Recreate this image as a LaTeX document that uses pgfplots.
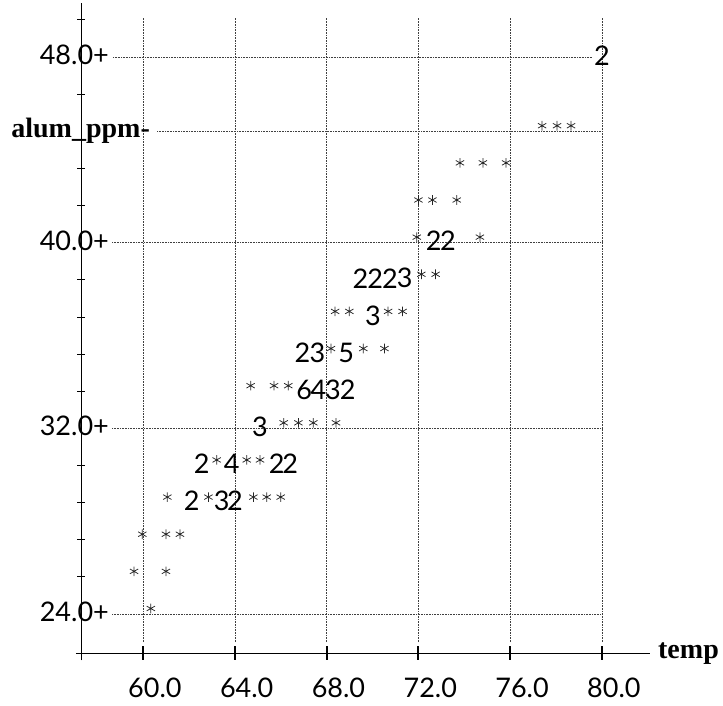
\documentclass[border=0pt]{standalone}
\usepackage{fontspec}
\setmainfont{Lato}
\newfontfamily\labelfont{Liberation Serif}
\usepackage{pgfplots}
\pgfplotsset{compat=1.18}

\newcommand\chfont{\fontsize{27}{30}\selectfont}
\newcommand\lbfont{\labelfont\bfseries\fontsize{28}{30}\selectfont}

% digits printed in the character plot (x = temp, y = row of alum_ppm)
\pgfplotstableread{
x     y     c
80.00 48.0  2
72.67 40.0  2
73.29 40.0  2
69.47 38.4  2
70.12 38.4  2
70.76 38.4  2
71.40 38.4  3
70.02 36.8  3
66.95 35.2  2
67.60 35.2  3
68.85 35.2  5
67.02 33.6  6
67.65 33.6  4
68.28 33.6  3
68.92 33.6  2
65.10 32.0  3
62.56 30.4  2
63.86 30.4  4
65.83 30.4  2
66.41 30.4  2
62.12 28.8  2
63.43 28.8  3
64.01 28.8  2
}\digits

% single observations, printed as *
\pgfplotstableread{
x     y
77.39 44.8
78.04 44.8
78.65 44.8
73.81 43.2
74.81 43.2
75.82 43.2
72.00 41.6
72.61 41.6
73.67 41.6
71.93 40.0
74.68 40.0
72.13 38.4
72.75 38.4
68.37 36.8
68.99 36.8
70.68 36.8
71.31 36.8
68.19 35.2
69.60 35.2
70.52 35.2
64.69 33.6
65.71 33.6
66.33 33.6
66.13 32.0
66.77 32.0
67.42 32.0
68.41 32.0
63.21 30.4
64.52 30.4
65.10 30.4
61.06 28.8
62.85 28.8
64.81 28.8
65.39 28.8
66.00 28.8
59.97 27.2
61.00 27.2
61.61 27.2
59.61 25.6
61.00 25.6
60.34 24.0
}\stars

\begin{document}
\begin{tikzpicture}
\useasboundingbox (0,0) rectangle (723pt,706pt);
\begin{axis}[
    at={(81.04pt,53.01pt)}, anchor=south west,
    scale only axis, width=568.93pt, height=650.11pt,
    xmin=57.3, xmax=82.09, ymin=22.32, ymax=50.33,
    axis line style={draw=none},
    xtick={60,64,68,72,76,80}, xticklabels={},
    xtick pos=bottom, ytick pos=left,
    tick align=center,
    major tick length=14pt,
    xtick style={line width=2pt, black},
    ytick=\empty, yticklabels={},
    extra y ticks={25.6,27.2,28.8,30.4,33.6,35.2,36.8,38.4,41.6,43.2,46.4,49.6},
    extra y tick labels={},
    extra y tick style={major tick length=8pt, tick style={line width=0.8pt, black}},
    clip=false,
  ]

  % axis lines (with the small overhang of the original)
  \draw[line width=0.9pt] (axis cs:57.08,22.32) -- (axis cs:82.09,22.32);
  \draw[line width=0.9pt] (axis cs:57.3,22.0) -- (axis cs:57.3,50.33);

  % dotted reference lines
  \tikzset{gl/.style={densely dotted, line width=0.6pt, black!75}}
  \draw[gl] (axis cs:60,22.79) -- (axis cs:60,49.68);
  \draw[gl] (axis cs:64,22.79) -- (axis cs:64,49.68);
  \draw[gl] (axis cs:68,22.79) -- (axis cs:68,49.68);
  \draw[gl] (axis cs:72,22.79) -- (axis cs:72,49.68);
  \draw[gl] (axis cs:76,22.79) -- (axis cs:76,49.68);
  \draw[gl] (axis cs:80,22.79) -- (axis cs:80,49.68);
  \draw[gl] (axis cs:58.65,24) -- (axis cs:80,24);
  \draw[gl] (axis cs:58.65,32) -- (axis cs:80,32);
  \draw[gl] (axis cs:58.65,40) -- (axis cs:80,40);
  \draw[gl] (axis cs:60.61,44.8) -- (axis cs:80,44.8);
  \draw[gl] (axis cs:58.69,48) -- (axis cs:79.56,48);

  \addplot[only marks, mark=asterisk, mark size=4.8pt,
    mark options={black!85, line width=0.75pt, yshift=5.5pt}] table {\stars};

  \addplot[only marks, mark=none, nodes near coords, point meta=explicit symbolic,
    nodes near coords style={font=\chfont, anchor=center, inner sep=0pt, yshift=1.5pt}]
    table[x=x, y=y, meta=c] {\digits};

  % y labels
  \node[anchor=east, font=\chfont, inner sep=0pt] at ([xshift=28pt,yshift=2pt]axis cs:57.3,48) {48.0+};
  \node[anchor=east, font=\chfont, inner sep=0pt] at ([xshift=28pt,yshift=2pt]axis cs:57.3,40) {40.0+};
  \node[anchor=east, font=\chfont, inner sep=0pt] at ([xshift=28pt,yshift=2pt]axis cs:57.3,32) {32.0+};
  \node[anchor=east, font=\chfont, inner sep=0pt] at ([xshift=28pt,yshift=2pt]axis cs:57.3,24) {24.0+};
  \node[anchor=base east, font=\lbfont, inner sep=0pt] at ([xshift=69pt,yshift=-6pt]axis cs:57.3,44.8) {alum\_ppm-};

  % x labels
  \node[anchor=base west, font=\chfont, inner sep=0pt] at ([xshift=-15pt,yshift=-45pt]axis cs:60,22.32) {60.0};
  \node[anchor=base west, font=\chfont, inner sep=0pt] at ([xshift=-15pt,yshift=-45pt]axis cs:64,22.32) {64.0};
  \node[anchor=base west, font=\chfont, inner sep=0pt] at ([xshift=-15pt,yshift=-45pt]axis cs:68,22.32) {68.0};
  \node[anchor=base west, font=\chfont, inner sep=0pt] at ([xshift=-15pt,yshift=-45pt]axis cs:72,22.32) {72.0};
  \node[anchor=base west, font=\chfont, inner sep=0pt] at ([xshift=-15pt,yshift=-45pt]axis cs:76,22.32) {76.0};
  \node[anchor=base west, font=\chfont, inner sep=0pt] at ([xshift=-15pt,yshift=-45pt]axis cs:80,22.32) {80.0};
  \node[anchor=base west, font=\lbfont, inner sep=0pt] at ([xshift=8pt,yshift=-6pt]axis cs:82.09,22.32) {temp};

\end{axis}
\end{tikzpicture}
\end{document}
